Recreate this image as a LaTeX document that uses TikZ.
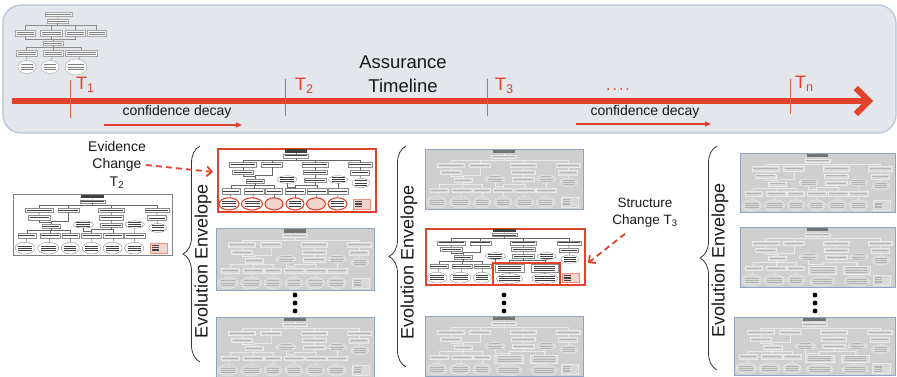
\documentclass[tikz,border=0pt]{standalone}
\usepackage{fontspec}
\setmainfont{Liberation Sans}
\usetikzlibrary{arrows.meta,decorations.pathreplacing,shapes.geometric,fit}

\definecolor{tlred}{HTML}{E2412B}
\definecolor{panelfill}{HTML}{E3E6EB}
\definecolor{panelline}{HTML}{B3C4DA}
\definecolor{fadebg}{HTML}{CFCFCF}
\definecolor{fadeframe}{HTML}{8FA5C6}
\definecolor{fadebox}{HTML}{D8D8D8}
\definecolor{fadeline}{HTML}{E9E9E9}
\definecolor{fadetxt}{HTML}{B4B4B4}
\definecolor{legendpink}{HTML}{F3D3CE}

% ---------- miniature argument trees ----------
\newcommand\gsnframe{%
  \node[rectangle, inner sep=0pt, transform shape, gframe, minimum width=158, minimum height=62, anchor=north west] (-frame) at (0,0) {};}

\newcommand\gsnupper{%
  \node[gtitlebox, minimum width=22, minimum height=3.5] (-t) at (79,2.8) {};
  \node[gb, minimum width=25, minimum height=3.6] (-g0) at (79,7.8) {};
  \node[gb, minimum width=27, minimum height=4.4] (-g1) at (26,16.5) {};
  \node[gb, minimum width=21, minimum height=4.4] (-g2) at (55,16.5) {};
  \node[gb, minimum width=26, minimum height=4.4] (-g3) at (98,16.5) {};
  \node[gb, minimum width=24, minimum height=4.4] (-g4) at (143,16.5) {};
  \node[gb, minimum width=21, minimum height=4.4] (-c1) at (26,24) {};
  \node[gb, minimum width=24, minimum height=4.4] (-c3) at (98,24) {};
  \node[gb, minimum width=22, minimum height=4.4] (-c3b) at (98,31.5) {};
  \node[gb, minimum width=19, minimum height=5] (-c4) at (143,24.5) {};
  \node[gb, minimum width=18, minimum height=4.4] (-s1) at (38,32.5) {};
  \node[ge, minimum width=20, minimum height=7.5] (-e2) at (70,31) {};
  \node[ge, minimum width=19, minimum height=7.5] (-e4) at (121,31) {};
  \node[ge, minimum width=18, minimum height=9] (-e5) at (144,34.5) {};
  \node[gb, minimum width=18, minimum height=5] (-r1) at (14,42.5) {};
  \node[gb, minimum width=20, minimum height=5] (-r2) at (37,42.5) {};
  \node[gb, minimum width=17, minimum height=5] (-r3) at (57,42.5) {};
  \node[ge, gbot, minimum width=20, minimum height=12] (-b1) at (12,55) {};
  \node[ge, gbot, minimum width=21, minimum height=12] (-b2) at (35,55) {};
  \node[ge, gbot, gvoid, minimum width=18, minimum height=12] (-b3) at (57,55) {};
  \node[glegbox, minimum width=17, minimum height=10] (-leg) at (144.5,55) {};
  \draw[gln] (-t) -- (-g0);
  \foreach \k in {g1,g2,g3,g4}{\draw[gln] (-g0.south) -- ++(0,2.2) -| (-\k.north);}
  \draw[gln] (-g1) -- (-c1);
  \draw[gln] (-c1.south) -- ++(0,2) -| (-s1.north);
  \draw[gln] (-g2.south) -- ++(0,8.5) -| (-s1.north);
  \foreach \k in {r1,r2,r3}{\draw[gln] (-s1.south) -- ++(0,2) -| (-\k.north);}
  \draw[gln] (-r1) -- (-b1);
  \draw[gln] (-r2) -- (-b2);
  \draw[gln] (-r3) -- (-b3);
  \draw[gln] (-g3) -- (-c3);
  \draw[gln] (-c3) -- (-c3b);
  \draw[gln] (-g4) -- (-c4);
  \draw[gln] (-c4) -- (-e5);}

% original lower right part
\newcommand\gsnlowerA{%
  \node[gb, minimum width=20, minimum height=5] (-r4) at (78,42.5) {};
  \node[gb, minimum width=20, minimum height=5] (-r5) at (100,42.5) {};
  \node[gb, minimum width=20, minimum height=5] (-r6) at (121,42.5) {};
  \node[ge, gbot, minimum width=18, minimum height=12] (-b4) at (78,55) {};
  \node[ge, gbot, gvoid, minimum width=19, minimum height=12] (-b5) at (99,55) {};
  \node[ge, gbot, minimum width=19, minimum height=12] (-b6) at (120.5,55) {};
  \foreach \k in {r4,r5}{\draw[gln] (-c3b.south) -- ++(0,2.5) -| (-\k.north);}
  \draw[gln] (-e2.south) -- ++(0,3.5) -| (-r4.north);
  \draw[gln] (-e4) -- (-r6);
  \draw[gln] (-r4) -- (-b4);
  \draw[gln] (-r5) -- (-b5);
  \draw[gln] (-r6) -- (-b6);}

% restructured lower right part
\newcommand\gsnlowerB{%
  \node[gb, txtthree, minimum width=29, minimum height=8] (-R1) at (84,44.5) {};
  \node[gb, txtthree, minimum width=27, minimum height=8] (-R2) at (119,44.5) {};
  \node[ge, minimum width=26, minimum height=11] (-B1) at (84,56) {};
  \node[ge, minimum width=26, minimum height=11] (-B2) at (119,56) {};
  \foreach \k in {R1,R2}{\draw[gln] (-c3b.south) -- ++(0,2.5) -| (-\k.north);}
  \draw[gln] (-e2.south) -- ++(0,3.5) -| (-R1.north);
  \draw[gln] (-e4) -- (-R2);
  \draw[gln] (-R1) -- (-B1);
  \draw[gln] (-R2) -- (-B2);}

% early, smaller tree
\newcommand\gsntop{%
  \node[gb, minimum width=27, minimum height=4] (-t0) at (58.5,14) {};
  \node[gb, minimum width=21, minimum height=4] (-t1) at (57.5,21) {};
  \node[gb, txttwo, minimum width=20, minimum height=6] (-u1) at (25,33.5) {};
  \node[gb, txttwo, minimum width=22, minimum height=6] (-u2) at (51,33.5) {};
  \node[gb, txttwo, minimum width=20, minimum height=6] (-u3) at (75,33.5) {};
  \node[gb, txttwo, minimum width=19, minimum height=6] (-u4) at (96.5,33.5) {};
  \node[gb, minimum width=20, minimum height=4] (-m) at (53,43) {};
  \node[gb, txttwo, minimum width=21, minimum height=6] (-v1) at (26.5,53.5) {};
  \node[gb, txttwo, minimum width=20, minimum height=6] (-v2) at (53,53.5) {};
  \node[gb, txttwo, minimum width=32, minimum height=6] (-v3) at (81,53.5) {};
  \node[ge, minimum width=18, minimum height=13] (-w1) at (27,67) {};
  \node[ge, minimum width=18, minimum height=13] (-w2) at (50,67) {};
  \node[ge, minimum width=22, minimum height=16] (-w3) at (76,67) {};
  \draw[gln] (-t0) -- (-t1);
  \foreach \k in {u1,u2,u3,u4}{\draw[gln] (-t1.south) -- ++(0,2.5) -| (-\k.north);}
  \foreach \k in {u1,u2,u3}{\draw[gln] (-m.north) -- ++(0,-2) -| (-\k.south);}
  \foreach \k in {v1,v2,v3}{\draw[gln] (-m.south) -- ++(0,2.5) -| (-\k.north);}
  \draw[gln] (-v1) -- (-w1);
  \draw[gln] (-v2) -- (-w2);
  \draw[gln] (-v3) -- (-w3);}

\tikzset{
  gframe/.style={draw=gray, fill=white},
  gboxc/.style={draw=gray, fill=white},
  gtxt/.style={line width=0.9pt, draw=gray},
  gln/.style={draw=gray, line width=0.4pt},
  gtitle/.style={fill=gray},
  gbot/.style={},
  gvoid/.style={},
  glegend/.style={draw=gray, fill=white},
  txtone/.style={path picture={\draw[gtxt] ([xshift=1.2pt]path picture bounding box.west) -- ([xshift=-1.2pt]path picture bounding box.east);}},
  txttwo/.style={path picture={\foreach \yy in {-1.3,1.3}{\draw[gtxt] ([shift={(1.5pt,\yy pt)}]path picture bounding box.west) -- ([shift={(-1.5pt,\yy pt)}]path picture bounding box.east);}}},
  txtthree/.style={path picture={\foreach \yy in {-2.2,0,2.2}{\draw[gtxt] ([shift={(3pt,\yy pt)}]path picture bounding box.west) -- ([shift={(-3pt,\yy pt)}]path picture bounding box.east);}}},
  gb/.style={rectangle, inner sep=0pt, outer sep=0pt, transform shape, gboxc, line width=0.4pt, txtone},
  ge/.style={ellipse, inner sep=0pt, outer sep=0pt, transform shape, gboxc, line width=0.4pt, txtthree},
  gtitlebox/.style={rectangle, inner sep=0pt, transform shape, gtitle},
  glegbox/.style={rectangle, inner sep=0pt, transform shape, glegend, line width=0.6pt,
    path picture={\foreach \yy in {-2.6,-0.9,0.8,2.5}{\draw[gtxt, line width=0.7pt] ([shift={(2pt,\yy pt)}]path picture bounding box.west) -- ++(7pt,0);}}},
  thfaded/.style={
    gframe/.style={draw=fadeframe, fill=fadebg, line width=0.8pt},
    gboxc/.style={draw=fadeline, fill=fadebox},
    gtxt/.style={line width=0.9pt, draw=fadetxt},
    gln/.style={draw=fadeline, line width=0.5pt},
    gtitle/.style={fill=black!55},
    gbot/.style={},
    gvoid/.style={},
    glegend/.style={draw=fadeline, fill=fadebox}},
  thplain/.style={
    gframe/.style={draw=black!50, fill=white, line width=0.8pt},
    gboxc/.style={draw=black!45, fill=white},
    gtxt/.style={line width=0.9pt, draw=black!75},
    gln/.style={draw=black!60, line width=0.4pt},
    gtitle/.style={fill=black!75},
    gbot/.style={},
    gvoid/.style={},
    glegend/.style={draw=tlred!60, fill=legendpink}},
  thsoft/.style={thplain,
    gboxc/.style={draw=black!35, fill=white!85!panelfill},
    gtxt/.style={line width=0.8pt, draw=black!50},
    gln/.style={draw=black!45, line width=0.4pt}},
  thevid/.style={thplain,
    gframe/.style={draw=tlred, fill=white, line width=2.4pt},
    gbot/.style={draw=tlred, line width=1.1pt},
    gvoid/.style={fill=legendpink, path picture={}}},
  thstruct/.style={thplain,
    gframe/.style={draw=tlred, fill=white, line width=2.4pt}},
  gsnA/.pic={\gsnframe\gsnupper\gsnlowerA},
  gsnB/.pic={\gsnframe\gsnupper\gsnlowerB},
  gsnTop/.pic={\gsntop},
  % ---------- annotation styles ----------
  tick/.style={draw=tlred!85, line width=0.7pt},
  tlab/.style={text=tlred, font=\fontsize{18}{21}\selectfont, anchor=base west},
  decay/.style={font=\fontsize{14}{17}\selectfont, text=black!90},
  decayarrow/.style={draw=tlred, line width=1.3pt, -{Triangle[length=6pt,width=5pt]}},
  dasharrow/.style={draw=tlred, line width=1.8pt, dash pattern=on 6pt off 4pt, -{Straight Barb[length=5pt,width=10pt]}},
  envbrace/.style={draw=black!80, line width=0.8pt, decorate, decoration={brace, amplitude=17pt}},
  envlabel/.style={rotate=90, font=\fontsize{18}{21}\selectfont, text=black!90},
  note/.style={align=center, font=\fontsize{14}{17.5}\selectfont, text=black!90},
}

\begin{document}
\begin{tikzpicture}[x=1pt, y=-1pt, every node/.style={inner sep=0pt}]
\useasboundingbox (0,0) rectangle (897,377);
\clip (0,0) rectangle (897,377);

% ---------- timeline panel ----------
\path[draw=panelline, fill=panelfill, line width=1.2pt, rounded corners=18pt] (3,5) rectangle (896,133);
\pic[thsoft] (tp) {gsnTop};

\coordinate (tl0) at (12,101);
\coordinate (tl1) at (873,101);
\draw[tlred, line width=6pt, -{Straight Barb[length=13pt, width=26pt]}] (tl0) -- (tl1);

\draw[tick] (70,80) -- (70,118);
\draw[tick] (285,79) -- (285,116);
\draw[tick] (487,79) -- (487,116);
\draw[tick] (790,79) -- (790,114);
\node[tlab] (T1) at (76,90) {T\textsubscript{1}};
\node[tlab] (T2) at (295,91) {T\textsubscript{2}};
\node[tlab] (T3) at (495,91) {T\textsubscript{3}};
\node[tlab] (Tn) at (795,89) {T\textsubscript{n}};
\node[text=tlred, font=\fontsize{16}{18}\selectfont, anchor=base] (tdots) at (618,91) {.\kern2pt.\kern2pt.\kern2pt.};

\node[font=\fontsize{18.5}{22}\selectfont, text=black!90] (assur) at (403,62) {Assurance};
\node[font=\fontsize{18.5}{22}\selectfont, text=black!90] (timel) at (403,86) {Timeline};

\node[decay] (cd1) at (177,112) {confidence decay};
\coordinate (cd1a) at (104,125);
\coordinate (cd1b) at (242,125);
\draw[decayarrow] (cd1a) -- (cd1b);
\node[decay] (cd2) at (645,112) {confidence decay};
\coordinate (cd2a) at (576,124);
\coordinate (cd2b) at (711,124);
\draw[decayarrow] (cd2a) -- (cd2b);

% ---------- evolution envelopes ----------
\pic[thplain, shift={(13,194)}, xscale=1.006, yscale=0.984] (lt) {gsnA};

\draw[envbrace] (200,362) -- (200,146);
\node[envlabel] (env1) at (203,261) {Evolution Envelope};
\pic[thevid, shift={(217,148)}, yscale=1.016] (c1a) {gsnA};
\pic[thfaded, shift={(216,228)}] (c1b) {gsnA};
\pic[thfaded, shift={(216,317)}, yscale=0.968] (c1c) {gsnA};

\draw[envbrace] (406,367) -- (406,146);
\node[envlabel] (env2) at (409,262) {Evolution Envelope};
\pic[thfaded, shift={(425,149)}, yscale=0.968] (c2a) {gsnA};
\pic[thstruct, shift={(425,228)}, xscale=1.006, yscale=0.903] (c2r) {gsnB};
\node[draw=tlred, line width=2pt, rectangle, inner sep=1.5pt, fit=(c2r-R1)(c2r-R2)(c2r-B1)(c2r-B2)] (inred) {};
\pic[thfaded, shift={(425,316)}, yscale=0.968] (c2c) {gsnB};

\draw[envbrace] (717,370) -- (717,146);
\node[envlabel] (env3) at (720,260) {Evolution Envelope};
\pic[thfaded, shift={(740,153)}, xscale=0.981, yscale=0.952] (c3a) {gsnA};
\pic[thfaded, shift={(740,227)}, xscale=0.981, yscale=0.968] (c3b) {gsnB};
\pic[thfaded, shift={(734,317)}, xscale=1.019, yscale=0.935] (c3c) {gsnB};

\foreach \xx in {295,504,815}{\foreach \yy in {295,303,311}{\fill[black] (\xx,\yy) circle[radius=2.4pt];}}

% ---------- change annotations ----------
\node[note] (evch) at (117,165) {Evidence\\Change\\T\textsubscript{2}};
\coordinate (evtip) at (213,172);
\draw[dasharrow] (evch.east) -- (evtip);

\node[note, font=\fontsize{13.5}{17}\selectfont] (stch) at (645,213) {Structure\\Change T\textsubscript{3}};
\coordinate (sttip) at (588,263);
\draw[dasharrow] ([shift={(-20pt,-6pt)}]stch.south) -- (sttip);
\end{tikzpicture}
\end{document}
